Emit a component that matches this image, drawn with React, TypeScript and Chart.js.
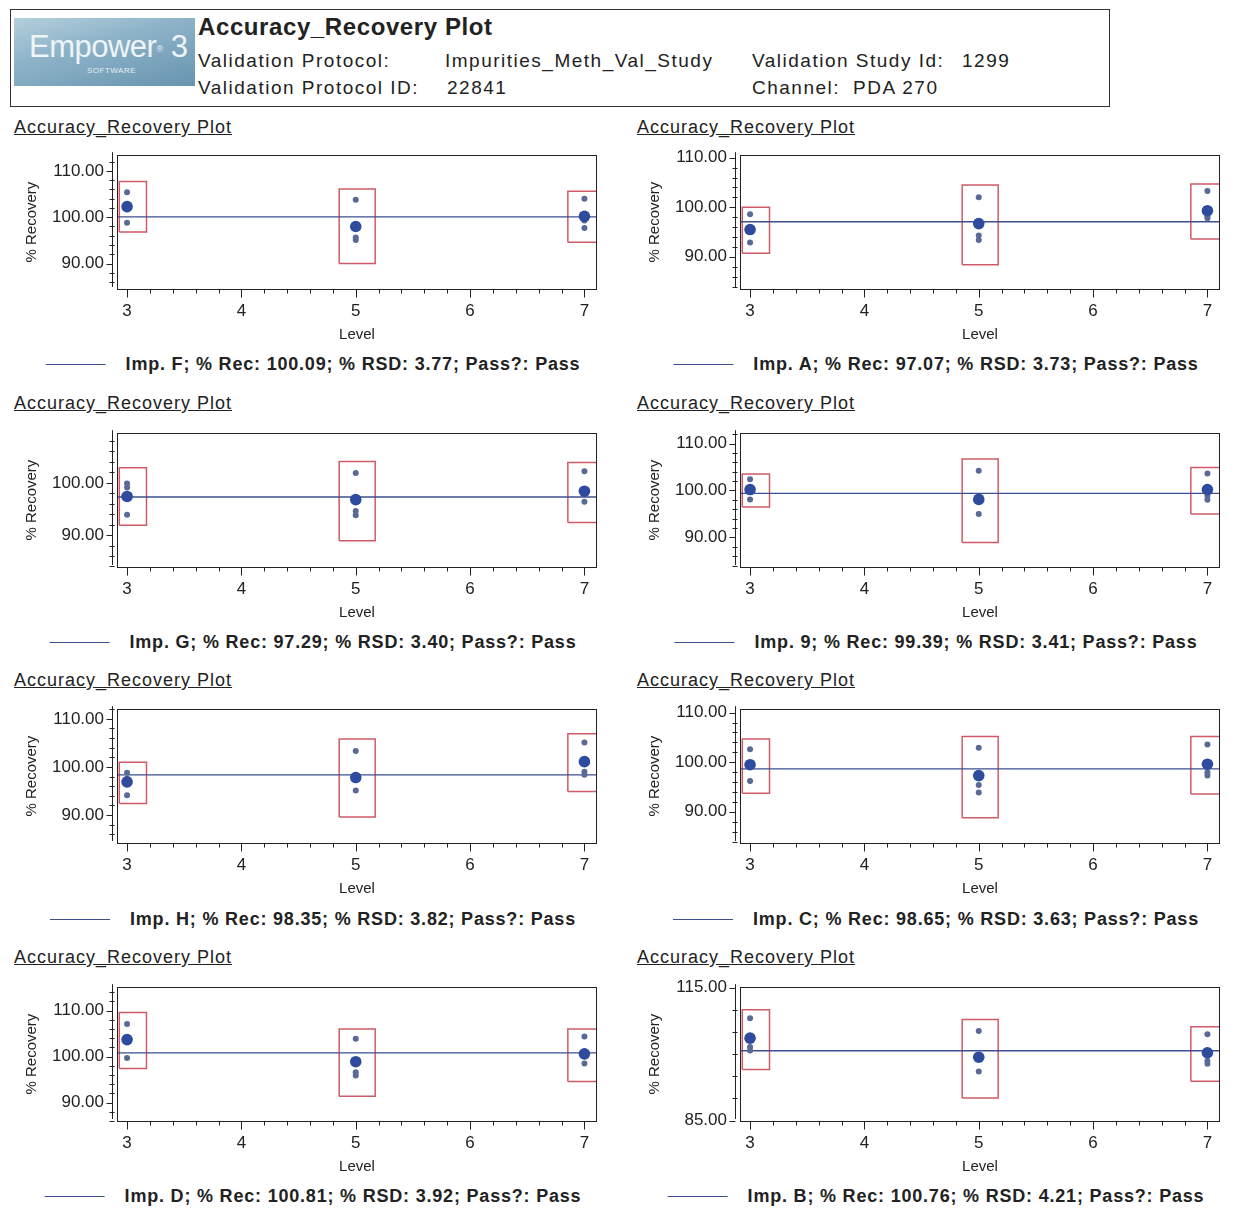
import React, { useEffect, useRef } from 'react';
import { Chart, registerables } from 'chart.js';

Chart.register(...registerables);

// ---------- data ----------
const levelTicks = [3, 4, 5, 6, 7];
const studyLevels = [3, 5, 7];

const impurityLabels = ['Imp. F', 'Imp. A', 'Imp. G', 'Imp. 9', 'Imp. H', 'Imp. C', 'Imp. D', 'Imp. B'];
const recoveryMeans = [100.09, 97.07, 97.29, 99.39, 98.35, 98.65, 100.81, 100.76];
const rsdValues = ['3.77', '3.73', '3.40', '3.41', '3.82', '3.63', '3.92', '4.21'];
const passValues = ['Pass', 'Pass', 'Pass', 'Pass', 'Pass', 'Pass', 'Pass', 'Pass'];

const replicatesF = [[105.4, 102.5, 98.8], [103.8, 95.6, 95.1], [104.0, 99.3, 97.7]];
const levelMeansF = [102.3, 98.0, 100.2];
const rangeLowF = [96.8, 90.0, 94.6];
const rangeHighF = [107.7, 106.1, 105.6];

const replicatesA = [[98.6, 95.0, 92.9], [102.0, 94.3, 93.4], [103.3, 98.2, 97.8]];
const levelMeansA = [95.5, 96.7, 99.3];
const rangeLowA = [90.7, 88.4, 93.6];
const rangeHighA = [100.0, 104.5, 104.7];

const replicatesG = [[99.9, 99.1, 93.9], [101.9, 94.6, 93.8], [102.2, 98.6, 96.4]];
const levelMeansG = [97.4, 96.8, 98.4];
const rangeLowG = [91.9, 88.9, 92.4];
const rangeHighG = [102.9, 104.1, 103.9];

const replicates9 = [[102.4, 100.6, 98.1], [104.2, 98.5, 95.0], [103.6, 98.8, 98.0]];
const levelMeans9 = [100.2, 98.1, 100.2];
const rangeLow9 = [96.5, 88.9, 95.0];
const rangeHigh9 = [103.5, 106.7, 104.9];

const replicatesH = [[98.8, 97.5, 94.1], [103.3, 98.2, 95.1], [105.1, 99.0, 98.4]];
const levelMeansH = [96.9, 97.8, 101.1];
const rangeLowH = [92.4, 89.6, 94.9];
const rangeHighH = [101.0, 105.8, 106.9];

const replicatesC = [[102.6, 99.8, 96.2], [102.9, 95.4, 93.9], [103.6, 98.0, 97.3]];
const levelMeansC = [99.5, 97.3, 99.6];
const rangeLowC = [93.75, 88.8, 93.6];
const rangeHighC = [104.7, 105.2, 105.2];

const replicatesD = [[107.1, 103.5, 99.7], [103.9, 96.6, 95.9], [104.4, 100.2, 98.5]];
const levelMeansD = [103.7, 98.9, 100.6];
const rangeLowD = [97.4, 91.4, 94.6];
const rangeHighD = [109.6, 106.0, 106.0];

const replicatesB = [[108.1, 101.6, 100.8], [105.2, 99.5, 96.1], [104.5, 98.5, 97.8]];
const levelMeansB = [103.6, 99.3, 100.3];
const rangeLowB = [96.5, 90.1, 93.9];
const rangeHighB = [110.0, 107.8, 106.2];

const yAxisMin = [84.5, 83.5, 83.9, 83.7, 84.2, 83.7, 86.0, 84.9];
const yAxisMax = [113.4, 110.5, 109.5, 112.2, 112.0, 110.7, 115.1, 115.1];
const yTickLabels = [
  [90, 100, 110], [90, 100, 110], [90, 100], [90, 100, 110],
  [90, 100, 110], [90, 100, 110], [90, 100, 110], [85, 115],
];
const yMinorStep = [2, 2, 2, 2, 2, 2, 2, 5];
const xAxisMin = 2.912;
const xAxisMax = 7.11;

const panels = [
  { reps: replicatesF, means: levelMeansF, low: rangeLowF, high: rangeHighF },
  { reps: replicatesA, means: levelMeansA, low: rangeLowA, high: rangeHighA },
  { reps: replicatesG, means: levelMeansG, low: rangeLowG, high: rangeHighG },
  { reps: replicates9, means: levelMeans9, low: rangeLow9, high: rangeHigh9 },
  { reps: replicatesH, means: levelMeansH, low: rangeLowH, high: rangeHighH },
  { reps: replicatesC, means: levelMeansC, low: rangeLowC, high: rangeHighC },
  { reps: replicatesD, means: levelMeansD, low: rangeLowD, high: rangeHighD },
  { reps: replicatesB, means: levelMeansB, low: rangeLowB, high: rangeHighB },
];

// ---------- layout / style ----------
const FONT = '"Liberation Sans", Arial, Helvetica, sans-serif';
const colX = [0, 623];
const frameTops = [152, 430, 706, 984];
const titleYs = [127, 403, 680, 957];
const legendYs = [364, 642, 919, 1196];
const CANVAS_W = 620;
const CANVAS_H = 219;
const PAD_TOP = 20;
const Y_AXIS_W = 117;
const PAD_RIGHT = 23;
const X_AXIS_H = 62;
const BOX_LEFT = 0.145;
const BOX_RIGHT = 0.17;

const LINE_COLOR = '#3d4f8c';
const BOX_COLOR = '#cf5b68';
const REP_COLOR = '#5a6a96';
const MEAN_COLOR = '#2f4b9d';
const AXIS_COLOR = '#222';

function Panel({ idx }: { idx: number }) {
  const ref = useRef<HTMLCanvasElement | null>(null);
  useEffect(() => {
    const canvas = ref.current;
    if (!canvas) return;
    const p = panels[idx];
    const yMin = yAxisMin[idx];
    const yMax = yAxisMax[idx];
    const labeled = yTickLabels[idx];
    const minorStep = yMinorStep[idx];

    const datasets: any[] = [];
    // level means (on top)
    datasets.push({
      data: studyLevels.map((l, i) => ({ x: l, y: p.means[i] })),
      pointRadius: 5.8,
      pointBackgroundColor: MEAN_COLOR,
      pointBorderColor: MEAN_COLOR,
      pointBorderWidth: 0,
      showLine: false,
    });
    // replicates
    const reps: any[] = [];
    studyLevels.forEach((l, i) => p.reps[i].forEach((v: number) => reps.push({ x: l, y: v })));
    datasets.push({
      data: reps,
      pointRadius: 3,
      pointBackgroundColor: REP_COLOR,
      pointBorderColor: REP_COLOR,
      pointBorderWidth: 0,
      showLine: false,
    });
    // overall recovery line
    datasets.push({
      data: [{ x: xAxisMin, y: recoveryMeans[idx] }, { x: xAxisMax, y: recoveryMeans[idx] }],
      showLine: true,
      borderColor: LINE_COLOR,
      borderWidth: 1.3,
      pointRadius: 0,
    });
    // range boxes
    studyLevels.forEach((l, i) => {
      const x0 = Math.max(l - BOX_LEFT, xAxisMin + 0.02);
      const x1 = Math.min(l + BOX_RIGHT, xAxisMax);
      const lo = p.low[i];
      const hi = p.high[i];
      datasets.push({
        data: [
          { x: x0, y: lo }, { x: x1, y: lo }, { x: x1, y: hi }, { x: x0, y: hi }, { x: x0, y: lo },
        ],
        showLine: true,
        borderColor: BOX_COLOR,
        borderWidth: 1.5,
        pointRadius: 0,
        tension: 0,
      });
    });

    const near = (a: number, b: number) => Math.abs(a - b) < 1e-6;

    const frameAxes = {
      id: 'frameAxes',
      afterDraw(chart: any) {
        const { ctx, chartArea: a, scales } = chart;
        const xs = scales.x;
        const ys = scales.y;
        ctx.save();
        ctx.strokeStyle = AXIS_COLOR;
        ctx.lineWidth = 1;
        // frame
        ctx.strokeRect(Math.round(a.left) + 0.5, Math.round(a.top) + 0.5,
          Math.round(a.right - a.left) - 1, Math.round(a.bottom - a.top));
        // y axis line (offset from frame)
        const ax = Math.round(a.left) - 4.5;
        ctx.beginPath();
        ctx.moveTo(ax, a.top - 3);
        ctx.lineTo(ax, a.bottom - 2);
        ctx.stroke();
        // y ticks
        const start = Math.ceil((yMin - 1e-9) / minorStep) * minorStep;
        for (let v = start; v <= yMax + 1e-9; v += minorStep) {
          const py = Math.round(ys.getPixelForValue(v)) + 0.5;
          const major = labeled.some((m) => near(m, v));
          ctx.beginPath();
          ctx.moveTo(ax - (major ? 6 : 3), py);
          ctx.lineTo(ax + (major ? 0 : 2), py);
          ctx.stroke();
        }
        // x ticks
        const by = Math.round(a.bottom) + 0.5;
        for (let k = 0; k <= 20; k++) {
          const v = 3 + k * 0.2;
          if (v > xAxisMax) break;
          const px = Math.round(xs.getPixelForValue(v)) + 0.5;
          const major = levelTicks.some((m) => near(m, v));
          ctx.beginPath();
          ctx.moveTo(px, by);
          ctx.lineTo(px, by + (major ? 8 : 4));
          ctx.stroke();
        }
        ctx.restore();
      },
    };

    const chart = new Chart(canvas, {
      type: 'scatter',
      data: { datasets },
      options: {
        animation: false,
        responsive: false,
        events: [],
        layout: { padding: { left: 0, top: PAD_TOP, right: PAD_RIGHT, bottom: 0 } },
        plugins: {
          legend: { display: false },
          tooltip: { enabled: false },
        },
        scales: {
          x: {
            type: 'linear',
            position: 'bottom',
            min: xAxisMin,
            max: xAxisMax,
            afterBuildTicks: (s: any) => { s.ticks = levelTicks.map((v) => ({ value: v })); },
            afterFit: (s: any) => { s.height = X_AXIS_H; },
            grid: { display: false, drawTicks: false },
            border: { display: false },
            ticks: {
              padding: 12,
              autoSkip: false,
              maxRotation: 0,
              color: '#222',
              font: { family: FONT, size: 17 },
              callback: (v: any) => String(v),
            },
            title: {
              display: true,
              text: 'Level',
              color: '#222',
              font: { family: FONT, size: 15 },
              padding: { top: 0, bottom: 7 },
            },
          },
          y: {
            type: 'linear',
            position: 'left',
            min: yMin,
            max: yMax,
            afterBuildTicks: (s: any) => { s.ticks = labeled.map((v) => ({ value: v })); },
            afterFit: (s: any) => { s.width = Y_AXIS_W; },
            grid: { display: false, drawTicks: false },
            border: { display: false },
            ticks: {
              padding: 13,
              color: '#222',
              font: { family: FONT, size: 17 },
              callback: (v: any) => Number(v).toFixed(2),
            },
            title: {
              display: true,
              text: '% Recovery',
              color: '#222',
              font: { family: FONT, size: 15 },
              padding: { top: 23, bottom: 0 },
            },
          },
        },
      } as any,
      plugins: [frameAxes as any],
    });
    return () => chart.destroy();
  }, [idx]);

  const row = Math.floor(idx / 2);
  const col = idx % 2;
  const left = colX[col];
  return (
    <>
      <div
        style={{
          position: 'absolute', left: left + 14, top: titleYs[row] - 11, lineHeight: '22px',
          fontFamily: FONT, fontSize: 18, letterSpacing: '1px', color: '#222',
          textDecoration: 'underline', whiteSpace: 'nowrap',
        }}
      >
        Accuracy_Recovery Plot
      </div>
      <canvas
        ref={ref}
        width={CANVAS_W}
        height={CANVAS_H}
        style={{ position: 'absolute', left, top: frameTops[row] - PAD_TOP, width: CANVAS_W, height: CANVAS_H }}
      />
      <div
        style={{
          position: 'absolute', left: left + 313, top: legendYs[row] - 11, height: 22,
          transform: 'translateX(-50%)', display: 'flex', alignItems: 'center', whiteSpace: 'nowrap',
        }}
      >
        <div style={{ width: 60, height: 0, borderTop: `1.5px solid ${LINE_COLOR}`, marginRight: 20 }} />
        <span style={{ fontFamily: FONT, fontSize: 18, fontWeight: 'bold', letterSpacing: '0.8px', color: '#222' }}>
          {`${impurityLabels[idx]}; % Rec: ${recoveryMeans[idx].toFixed(2)}; % RSD: ${rsdValues[idx]}; Pass?: ${passValues[idx]}`}
        </span>
      </div>
    </>
  );
}

function Header() {
  const txt: React.CSSProperties = {
    position: 'absolute', fontFamily: FONT, fontSize: 19, letterSpacing: '1.5px', color: '#222',
    whiteSpace: 'nowrap', lineHeight: '22px',
  };
  return (
    <>
      <div style={{ position: 'absolute', left: 10, top: 9, width: 1098, height: 96, border: '1.5px solid #333' }} />
      <div
        style={{
          position: 'absolute', left: 14, top: 18, width: 181, height: 68,
          background: 'linear-gradient(165deg, #b4cfdc 0%, #8db3c8 40%, #6894b0 100%)',
          overflow: 'hidden',
        }}
      >
        <div style={{ position: 'absolute', left: 15, top: 12, fontFamily: FONT, fontSize: 31, color: '#eef4f7', letterSpacing: '-0.5px', whiteSpace: 'nowrap', lineHeight: '34px' }}>
          Empower<sup style={{ fontSize: 9, verticalAlign: 'top', position: 'relative', top: 2 }}>®</sup> 3
        </div>
        <div style={{ position: 'absolute', left: 73, top: 48, fontFamily: FONT, fontSize: 8, color: '#e8f0f4', letterSpacing: '0.5px' }}>
          SOFTWARE
        </div>
      </div>
      <div style={{ ...txt, left: 198, top: 16, fontSize: 24, fontWeight: 'bold', letterSpacing: '0.6px' }}>Accuracy_Recovery Plot</div>
      <div style={{ ...txt, left: 198, top: 50 }}>Validation Protocol:</div>
      <div style={{ ...txt, left: 445, top: 50 }}>Impurities_Meth_Val_Study</div>
      <div style={{ ...txt, left: 752, top: 50 }}>Validation Study Id:</div>
      <div style={{ ...txt, left: 962, top: 50 }}>1299</div>
      <div style={{ ...txt, left: 198, top: 77 }}>Validation Protocol ID:</div>
      <div style={{ ...txt, left: 447, top: 77 }}>22841</div>
      <div style={{ ...txt, left: 752, top: 77 }}>Channel:</div>
      <div style={{ ...txt, left: 853, top: 77 }}>PDA 270</div>
    </>
  );
}

export default function App() {
  return (
    <div style={{ position: 'absolute', left: 0, top: 0, width: 1239, height: 1227, background: '#fff', overflow: 'hidden' }}>
      <Header />
      {panels.map((_, i) => (
        <Panel key={i} idx={i} />
      ))}
    </div>
  );
}
